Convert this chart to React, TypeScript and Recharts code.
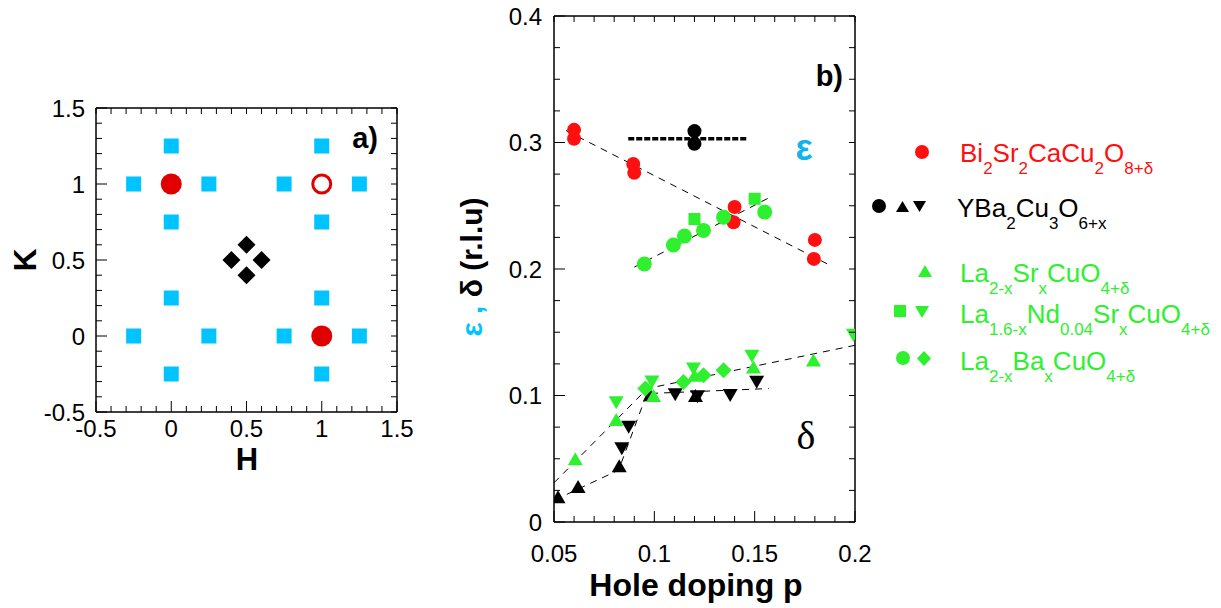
import React from 'react';
import { ScatterChart, Scatter, XAxis, YAxis, ReferenceLine } from 'recharts';

const FONT = '"Liberation Sans", Arial, Helvetica, sans-serif';
const SERIF = '"Liberation Serif", "Times New Roman", serif';
const RED = '#e00000';
const CYAN = '#00c4ff';
const GREEN = '#2ef02e';

// ---- panel a) reciprocal space (H, K)
const chargePeaks = [
  { h: 0, k: 1.25 }, { h: 0, k: 0.75 }, { h: -0.25, k: 1 }, { h: 0.25, k: 1 },
  { h: 1, k: 1.25 }, { h: 1, k: 0.75 }, { h: 0.75, k: 1 }, { h: 1.25, k: 1 },
  { h: 0, k: 0.25 }, { h: 0, k: -0.25 }, { h: -0.25, k: 0 }, { h: 0.25, k: 0 },
  { h: 1, k: 0.25 }, { h: 1, k: -0.25 }, { h: 0.75, k: 0 }, { h: 1.25, k: 0 },
];
const braggFilled = [{ h: 0, k: 1 }, { h: 1, k: 0 }];
const braggOpen = [{ h: 1, k: 1 }];
const spinPeaks = [{ h: 0.5, k: 0.6 }, { h: 0.4, k: 0.5 }, { h: 0.6, k: 0.5 }, { h: 0.5, k: 0.4 }];

const aMajorTicks = [-0.5, 0, 0.5, 1, 1.5];

// ---- panel b) incommensurability vs hole doping p
const bsccoEps = [
  { p: 0.06, v: 0.31 }, { p: 0.06, v: 0.303 }, { p: 0.0895, v: 0.283 }, { p: 0.09, v: 0.276 },
  { p: 0.14, v: 0.249 }, { p: 0.1395, v: 0.237 }, { p: 0.18, v: 0.223 }, { p: 0.1795, v: 0.208 },
];
const ybcoEps = [{ p: 0.12, v: 0.309 }, { p: 0.12, v: 0.299 }];
const ybcoEpsLine = [{ p: 0.087, v: 0.303 }, { p: 0.146, v: 0.303 }];
const lbcoEps = [
  { p: 0.095, v: 0.204 }, { p: 0.1095, v: 0.219 }, { p: 0.115, v: 0.226 },
  { p: 0.1245, v: 0.2305 }, { p: 0.1345, v: 0.241 }, { p: 0.155, v: 0.245 },
];
const lnscoEps = [{ p: 0.12, v: 0.2395 }, { p: 0.15, v: 0.2555 }];
const bsccoEpsFit = [{ p: 0.056, v: 0.3094 }, { p: 0.187, v: 0.2034 }];
const greenEpsFit = [{ p: 0.09, v: 0.2015 }, { p: 0.158, v: 0.257 }];

const ybcoDeltaUp = [
  { p: 0.052, v: 0.02 }, { p: 0.062, v: 0.028 }, { p: 0.0825, v: 0.0445 },
  { p: 0.098, v: 0.1005 }, { p: 0.1205, v: 0.1 },
];
const ybcoDeltaDown = [
  { p: 0.0838, v: 0.058 }, { p: 0.0872, v: 0.075 }, { p: 0.1104, v: 0.1005 },
  { p: 0.1215, v: 0.099 }, { p: 0.1378, v: 0.1 }, { p: 0.151, v: 0.1105 },
];
const lscoDelta = [
  { p: 0.0606, v: 0.05 }, { p: 0.081, v: 0.081 }, { p: 0.0996, v: 0.1 },
  { p: 0.12, v: 0.116 }, { p: 0.1494, v: 0.1226 }, { p: 0.1793, v: 0.128 },
];
const lnscoDelta = [
  { p: 0.081, v: 0.0942 }, { p: 0.0988, v: 0.1107 }, { p: 0.1195, v: 0.121 },
  { p: 0.1486, v: 0.131 }, { p: 0.1992, v: 0.1476 },
];
const lbcoDelta = [
  { p: 0.0955, v: 0.1055 }, { p: 0.1145, v: 0.1107 }, { p: 0.1245, v: 0.116 }, { p: 0.1345, v: 0.12 },
];
const greenDeltaFit = [{ p: 0.05, v: 0.031 }, { p: 0.0965, v: 0.1055 }, { p: 0.2, v: 0.1397 }];
const ybcoDeltaFit = [{ p: 0.0505, v: 0.0175 }, { p: 0.0822, v: 0.041 }, { p: 0.0963, v: 0.1015 }, { p: 0.157, v: 0.1055 }];

const pMajorTicks = [0.05, 0.1, 0.15, 0.2];
const epsMajorTicks = [0, 0.1, 0.2, 0.3, 0.4];

const steps = (from: number, to: number, step: number) => {
  const out: number[] = [];
  for (let v = from; v <= to + 1e-9; v += step) out.push(Math.round(v * 10000) / 10000);
  return out;
};
const aTicks = steps(-0.5, 1.5, 0.1);
const pTicks = steps(0.05, 0.2, 0.01);
const epsTicks = steps(0, 0.4, 0.025);

// ---- markers
const square = (color: string, s: number) => (props: any) => (
  <rect x={props.cx - s / 2} y={props.cy - s / 2} width={s} height={s} fill={color} />
);
const dot = (color: string, r: number) => (props: any) => <circle cx={props.cx} cy={props.cy} r={r} fill={color} />;
const ring = (color: string, r: number, w: number) => (props: any) => (
  <circle cx={props.cx} cy={props.cy} r={r} fill="#fff" stroke={color} strokeWidth={w} />
);
const diamond = (color: string, h: number) => (props: any) => {
  const { cx, cy } = props;
  return <polygon points={`${cx},${cy - h} ${cx + h},${cy} ${cx},${cy + h} ${cx - h},${cy}`} fill={color} />;
};
const triUp = (color: string, w: number, h: number) => (props: any) => {
  const { cx, cy } = props;
  return <polygon points={`${cx},${cy - h / 2} ${cx + w / 2},${cy + h / 2} ${cx - w / 2},${cy + h / 2}`} fill={color} />;
};
const triDown = (color: string, w: number, h: number) => (props: any) => {
  const { cx, cy } = props;
  return <polygon points={`${cx - w / 2},${cy - h / 2} ${cx + w / 2},${cy - h / 2} ${cx},${cy + h / 2}`} fill={color} />;
};
const noMark = () => <g />;

// ---- inward ticks on all four sides
type Side = 'bottom' | 'top' | 'left' | 'right';
const tickFor = (side: Side, majors: number[], gap: number) => (props: any) => {
  const x = Number(props.x);
  const y = Number(props.y);
  const v = props.payload.value;
  const major = majors.some((m) => Math.abs(m - v) < 1e-6);
  const len = major ? 11 : 6;
  let d = '';
  let label = null;
  if (side === 'bottom') {
    d = `M${x},${y}V${y - len}`;
    if (major)
      label = (
        <text x={x} y={y + gap} textAnchor="middle" fontSize={24} fontFamily={FONT} fill="#000">
          {v}
        </text>
      );
  } else if (side === 'top') {
    d = `M${x},${y}V${y + len}`;
  } else if (side === 'left') {
    d = `M${x},${y}H${x + len}`;
    if (major)
      label = (
        <text x={x - gap} y={y} dy="0.36em" textAnchor="end" fontSize={24} fontFamily={FONT} fill="#000">
          {v}
        </text>
      );
  } else {
    d = `M${x},${y}H${x - len}`;
  }
  return (
    <g>
      <path d={d} stroke="#000" strokeWidth={1} fill="none" />
      {label}
    </g>
  );
};

const axisCommon = {
  type: 'number' as const,
  interval: 0 as const,
  tickSize: 0,
  tickMargin: 0,
  tickLine: false,
  allowDataOverflow: true,
  stroke: '#000',
  axisLine: { stroke: '#000', strokeWidth: 1 },
};

const frame = (x0: number, x1: number, y0: number, y1: number) => [
  <ReferenceLine key="f1" xAxisId="b" yAxisId="l" x={x0} stroke="#000" strokeWidth={1} ifOverflow="visible" />,
  <ReferenceLine key="f2" xAxisId="b" yAxisId="l" x={x1} stroke="#000" strokeWidth={1} ifOverflow="visible" />,
  <ReferenceLine key="f3" xAxisId="b" yAxisId="l" y={y0} stroke="#000" strokeWidth={1} ifOverflow="visible" />,
  <ReferenceLine key="f4" xAxisId="b" yAxisId="l" y={y1} stroke="#000" strokeWidth={1} ifOverflow="visible" />,
];

const fitLine = { stroke: '#000', strokeWidth: 1, strokeDasharray: '7 6' };

const PanelA = () => (
  <ScatterChart width={420} height={480} margin={{ top: 107, right: 22, bottom: 38, left: 36 }}>
    <XAxis {...axisCommon} xAxisId="b" dataKey="h" domain={[-0.5, 1.5]} ticks={aTicks} height={30} tick={tickFor('bottom', aMajorTicks, 25)} />
    <XAxis {...axisCommon} xAxisId="t" orientation="top" dataKey="h" domain={[-0.5, 1.5]} ticks={aTicks} height={1} tick={tickFor('top', [], 0)} />
    <YAxis {...axisCommon} yAxisId="l" dataKey="k" domain={[-0.5, 1.5]} ticks={aTicks} width={60} tick={tickFor('left', aMajorTicks, 11)} />
    <YAxis {...axisCommon} yAxisId="r" orientation="right" dataKey="k" domain={[-0.5, 1.5]} ticks={aTicks} width={1} tick={tickFor('right', [], 0)} />
    {frame(-0.5, 1.5, -0.5, 1.5)}
    <Scatter xAxisId="b" yAxisId="l" data={chargePeaks} shape={square(CYAN, 15)} isAnimationActive={false} />
    <Scatter xAxisId="b" yAxisId="l" data={braggFilled} shape={dot(RED, 10.5)} isAnimationActive={false} />
    <Scatter xAxisId="b" yAxisId="l" data={braggOpen} shape={ring(RED, 9, 3)} isAnimationActive={false} />
    <Scatter xAxisId="b" yAxisId="l" data={spinPeaks} shape={diamond('#000', 9)} isAnimationActive={false} />
  </ScatterChart>
);

const PanelB = () => (
  <ScatterChart width={420} height={608} margin={{ top: 15, right: 24, bottom: 56, left: 34 }}>
    <XAxis {...axisCommon} xAxisId="b" dataKey="p" domain={[0.05, 0.2]} ticks={pTicks} height={30} tick={tickFor('bottom', pMajorTicks, 40)} />
    <XAxis {...axisCommon} xAxisId="t" orientation="top" dataKey="p" domain={[0.05, 0.2]} ticks={pTicks} height={1} tick={tickFor('top', [], 0)} />
    <YAxis {...axisCommon} yAxisId="l" dataKey="v" domain={[0, 0.4]} ticks={epsTicks} width={60} tick={tickFor('left', epsMajorTicks, 12)} />
    <YAxis {...axisCommon} yAxisId="r" orientation="right" dataKey="v" domain={[0, 0.4]} ticks={epsTicks} width={1} tick={tickFor('right', [], 0)} />
    {frame(0.05, 0.2, 0, 0.4)}

    <Scatter xAxisId="b" yAxisId="l" data={bsccoEpsFit} line={fitLine} shape={noMark} isAnimationActive={false} />
    <Scatter xAxisId="b" yAxisId="l" data={greenEpsFit} line={fitLine} shape={noMark} isAnimationActive={false} />
    <Scatter xAxisId="b" yAxisId="l" data={greenDeltaFit} line={fitLine} shape={noMark} isAnimationActive={false} />
    <Scatter xAxisId="b" yAxisId="l" data={ybcoDeltaFit} line={fitLine} shape={noMark} isAnimationActive={false} />
    <Scatter
      xAxisId="b"
      yAxisId="l"
      data={ybcoEpsLine}
      line={{ stroke: '#000', strokeWidth: 3.5, strokeDasharray: '6 2' }}
      shape={noMark}
      isAnimationActive={false}
    />

    <Scatter xAxisId="b" yAxisId="l" data={bsccoEps} shape={dot('#ff1010', 7)} isAnimationActive={false} />
    <Scatter xAxisId="b" yAxisId="l" data={ybcoEps} shape={dot('#000', 7)} isAnimationActive={false} />
    <Scatter xAxisId="b" yAxisId="l" data={lbcoEps} shape={dot(GREEN, 7.5)} isAnimationActive={false} />
    <Scatter xAxisId="b" yAxisId="l" data={lnscoEps} shape={square(GREEN, 12)} isAnimationActive={false} />

    <Scatter xAxisId="b" yAxisId="l" data={ybcoDeltaUp} shape={triUp('#000', 15, 13)} isAnimationActive={false} />
    <Scatter xAxisId="b" yAxisId="l" data={ybcoDeltaDown} shape={triDown('#000', 15, 13)} isAnimationActive={false} />
    <Scatter xAxisId="b" yAxisId="l" data={lscoDelta} shape={triUp(GREEN, 15, 13)} isAnimationActive={false} />
    <Scatter xAxisId="b" yAxisId="l" data={lnscoDelta} shape={triDown(GREEN, 15, 13)} isAnimationActive={false} />
    <Scatter xAxisId="b" yAxisId="l" data={lbcoDelta} shape={diamond(GREEN, 8)} isAnimationActive={false} />
  </ScatterChart>
);

const sub = (s: string) => (
  <tspan dy={12} fontSize={17}>
    {s}
  </tspan>
);

const Overlay = () => (
  <svg width={1221} height={608} style={{ position: 'absolute', left: 0, top: 0, pointerEvents: 'none' }}>
    <g fontFamily={FONT}>
      {/* panel a labels */}
      <text x={378} y={148} textAnchor="end" fontSize={29} fontWeight="bold">a)</text>
      <text x={247} y={470} textAnchor="middle" fontSize={31} fontWeight="bold">H</text>
      <text x={36} y={260} textAnchor="middle" fontSize={32} fontWeight="bold" transform="rotate(-90 36 260)">K</text>

      {/* panel b labels */}
      <text x={843} y={86} textAnchor="end" fontSize={29} fontWeight="bold">b)</text>
      <text x={696} y={596} textAnchor="middle" fontSize={32} fontWeight="bold">Hole doping p</text>
      <text x={482} y={267} textAnchor="middle" fontSize={30} fontWeight="bold" transform="rotate(-90 482 267)">
        <tspan fill={CYAN}>ε ,</tspan>
        <tspan fill="#000"> δ (r.l.u)</tspan>
      </text>
      <text x={804} y={160} textAnchor="middle" fontSize={36} fontWeight="bold" fill="#10b4ec">ε</text>
      <text x={806} y={449} textAnchor="middle" fontSize={40} fontFamily={SERIF} fill="#000">δ</text>

      {/* legend */}
      <circle cx={922} cy={152} r={7} fill="#ff1010" />
      <text x={960} y={162} fontSize={26} fill="#ff1010">
        Bi{sub('2')}<tspan dy={-12}>Sr</tspan>{sub('2')}<tspan dy={-12}>CaCu</tspan>{sub('2')}<tspan dy={-12}>O</tspan>{sub('8+δ')}
      </text>

      <circle cx={879} cy={206} r={7} fill="#000" />
      <polygon points="896,212 909,212 902.5,201" fill="#000" />
      <polygon points="913,201 926,201 919.5,212" fill="#000" />
      <text x={957} y={217} fontSize={26} fill="#000">
        YBa{sub('2')}<tspan dy={-12}>Cu</tspan>{sub('3')}<tspan dy={-12}>O</tspan>{sub('6+x')}
      </text>

      <polygon points="918,277 932,277 925,265" fill={GREEN} />
      <text x={960} y={282} fontSize={26} fill={GREEN}>
        La{sub('2-x')}<tspan dy={-12}>Sr</tspan>{sub('x')}<tspan dy={-12}>CuO</tspan>{sub('4+δ')}
      </text>

      <rect x={894} y={305} width={12} height={12} fill={GREEN} />
      <polygon points="915,306 929,306 922,318" fill={GREEN} />
      <text x={960} y={323} fontSize={26} fill={GREEN}>
        La{sub('1.6-x')}<tspan dy={-12}>Nd</tspan>{sub('0.04')}<tspan dy={-12}>Sr</tspan>{sub('x')}
        <tspan dy={-12}>CuO</tspan>{sub('4+δ')}
      </text>

      <circle cx={903} cy={358} r={7} fill={GREEN} />
      <polygon points="924,351 931,358.5 924,366 917,358.5" fill={GREEN} />
      <text x={960} y={370} fontSize={26} fill={GREEN}>
        La{sub('2-x')}<tspan dy={-12}>Ba</tspan>{sub('x')}<tspan dy={-12}>CuO</tspan>{sub('4+δ')}
      </text>
    </g>
  </svg>
);

export default function App() {
  return (
    <div style={{ position: 'absolute', left: 0, top: 0, width: 1221, height: 608, background: '#fff', fontFamily: FONT }}>
      <div style={{ position: 'absolute', left: 0, top: 0 }}>
        <PanelA />
      </div>
      <div style={{ position: 'absolute', left: 460, top: 0 }}>
        <PanelB />
      </div>
      <Overlay />
    </div>
  );
}
